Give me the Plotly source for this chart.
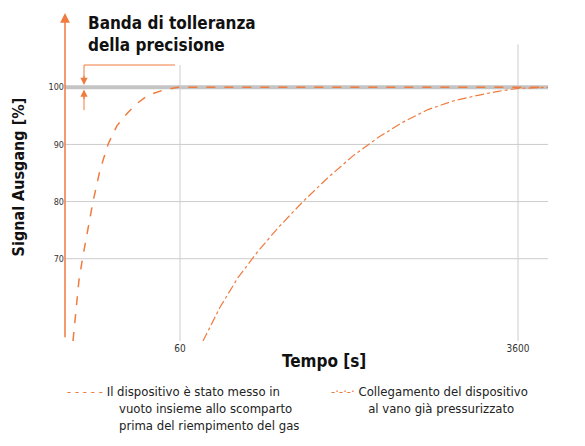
import plotly.graph_objects as go

# x in chart units (non-linear time scale); tick labels
tick_pos = [115, 453]
tick_text = ["60", "3600"]
y_ticks = [70, 80, 90, 100]

x_dash = [8, 11, 14, 18, 23, 28, 35, 43, 52, 63, 73, 83, 98, 113, 483]
y_dash = [55.6, 61.5, 66.3, 70.5, 75.5, 80, 85.5, 90, 93.3, 95.6, 97.3, 98.6, 99.5, 100, 100]
x_dd = [138, 155, 173, 193, 213, 238, 263, 288, 313, 338, 363, 388, 413, 433, 453, 483]
y_dd = [55.6, 61.5, 66.7, 71.3, 75.4, 80.0, 84.2, 88.0, 91.2, 93.9, 96.1, 97.6, 98.6, 99.3, 99.8, 100]

OR = "#f07b3f"
F = "DejaVu Sans Condensed"
fig = go.Figure()
fig.add_trace(go.Scatter(x=x_dash, y=y_dash, mode="lines", line=dict(color=OR, dash="dash", width=1.5)))
fig.add_trace(go.Scatter(x=x_dd, y=y_dd, mode="lines", line=dict(color=OR, dash="dashdot", width=1.2)))

shapes = []
for v in y_ticks[:-1]:
    shapes.append(dict(type="line", xref="x", yref="y", x0=0, x1=483, y0=v, y1=v, line=dict(color="#cccccc", width=1), layer="below"))
shapes.append(dict(type="line", xref="x", yref="y", x0=0, x1=483, y0=100, y1=100, line=dict(color="#c4c4c4", width=4), layer="below"))
shapes.append(dict(type="line", xref="x", yref="y", x0=115, x1=115, y0=55.6, y1=103.9, line=dict(color="#cccccc", width=1), layer="below"))
shapes.append(dict(type="line", xref="x", yref="y", x0=453, x1=453, y0=55.6, y1=107.5, line=dict(color="#cccccc", width=1), layer="below"))
shapes.append(dict(type="path", xref="x", yref="y", path="M 110 103.9 L 19 103.9 L 19 101.5", line=dict(color=OR, width=1)))
shapes.append(dict(type="line", xref="x", yref="y", x0=19, x1=19, y0=96, y1=98.5, line=dict(color=OR, width=1)))

ann = [
    dict(x=19, y=100.4, ax=19, ay=102.3, xref="x", yref="y", axref="x", ayref="y", showarrow=True, arrowhead=2, arrowsize=1.2, arrowcolor=OR, arrowwidth=1.2, text=""),
    dict(x=19, y=99.6, ax=19, ay=97.7, xref="x", yref="y", axref="x", ayref="y", showarrow=True, arrowhead=2, arrowsize=1.2, arrowcolor=OR, arrowwidth=1.2, text=""),
    dict(x=0, y=113, ax=0, ay=56, xref="x", yref="y", axref="x", ayref="y", showarrow=True, arrowhead=2, arrowsize=1.3, arrowcolor=OR, arrowwidth=1.5, text=""),
    dict(x=523, y=55.6, ax=-3, ay=55.6, xref="x", yref="y", axref="x", ayref="y", showarrow=True, arrowhead=2, arrowsize=1.3, arrowcolor=OR, arrowwidth=1.5, text=""),
    dict(x=0.04, y=1.005, xref="paper", yref="paper", xanchor="left", yanchor="top", showarrow=False, align="left",
         text="<b>Banda di tolleranza<br>della precisione</b>", font=dict(family=F, size=17, color="#111")),
    dict(x=-0.09, y=0.5, xref="paper", yref="paper", xanchor="center", yanchor="middle", textangle=-90, showarrow=False,
         text="<b>Signal Ausgang [%]</b>", font=dict(family=F, size=16, color="#111")),
    dict(x=0.5, y=-0.025, xref="paper", yref="paper", yanchor="top", showarrow=False,
         text="<b>Tempo [s]</b>", font=dict(family=F, size=17, color="#111")),
    dict(x=0.0, y=-0.125, xref="paper", yref="paper", xanchor="left", yanchor="top", showarrow=False, align="left",
         text="<span style='color:%s'>- - - - -</span> Il dispositivo è stato messo in<br>              vuoto insieme allo scomparto<br>              prima del riempimento del gas" % OR,
         font=dict(family=F, size=13, color="#222")),
    dict(x=0.51, y=-0.125, xref="paper", yref="paper", xanchor="left", yanchor="top", showarrow=False, align="left",
         text="<span style='color:%s'>-·-·-·</span> Collegamento del dispositivo<br>          al vano già pressurizzato" % OR,
         font=dict(family=F, size=13, color="#222")),
]

fig.update_layout(
    width=585, height=446, margin=dict(l=57, r=10, t=5, b=113, autoexpand=False),
    plot_bgcolor="white", paper_bgcolor="white", showlegend=False,
    shapes=shapes, annotations=ann,
    xaxis=dict(range=[0, 518], tickvals=tick_pos, ticktext=tick_text, showgrid=False, zeroline=False, automargin=False,
               showline=False, ticks="", tickfont=dict(family=F, size=10, color="#333")),
    yaxis=dict(range=[55.6, 113], tickvals=y_ticks, showgrid=False, zeroline=False, showline=False, automargin=False,
               ticks="", tickfont=dict(family=F, size=9, color="#333")),
)
fig.write_html("out.html")
